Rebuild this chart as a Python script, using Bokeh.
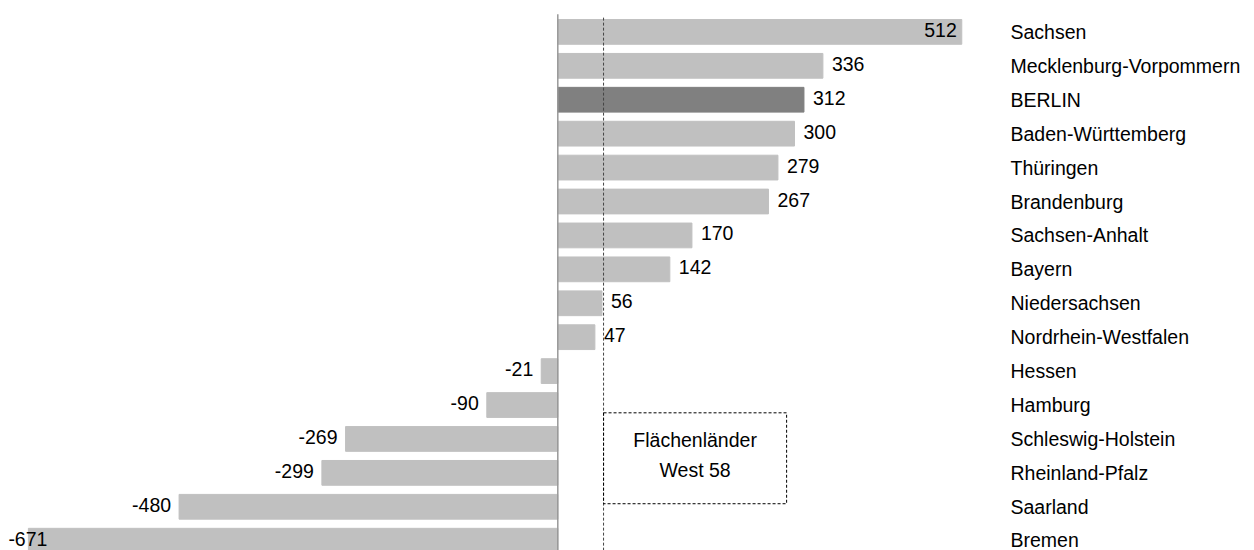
from bokeh.plotting import figure
from bokeh.models import Range1d, FixedTicker, ColumnDataSource, BoxAnnotation
from bokeh.core.properties import value
from bokeh.embed import file_html
from bokeh.resources import INLINE

# Saldo je Land (Einheiten wie im Original)
states = ["Sachsen", "Mecklenburg-Vorpommern", "BERLIN", "Baden-Württemberg",
          "Thüringen", "Brandenburg", "Sachsen-Anhalt", "Bayern",
          "Niedersachsen", "Nordrhein-Westfalen", "Hessen", "Hamburg",
          "Schleswig-Holstein", "Rheinland-Pfalz", "Saarland", "Bremen"]
values = [512, 336, 312, 300, 279, 267, 170, 142, 56, 47,
          -21, -90, -269, -299, -480, -671]
highlight = "BERLIN"
ref_title = "Flächenländer"
ref_sub = "West"
ref_value = 58

FONT = "Liberation Sans"
FS = "19.5px"
BAR = "#c0c0c0"
BAR_HI = "#808080"

# horizontal scale: 0.789 px per unit, zero at x = 557 px in a 1000 px frame
ppu = 0.789
x0_px = 557.3
frame_w = 1000
x_start = -x0_px / ppu
x_end = (frame_w - x0_px) / ppu

rows = list(range(len(states)))
colors = [BAR_HI if s == highlight else BAR for s in states]

# value label placement: outside the bar end, except the largest (inside)
# and the smallest (pushed against the left edge)
vmax, vmin = max(values), min(values)
lab_align, lab_off = [], []
for v in values:
    if v == vmax:
        lab_align.append("right"); lab_off.append(-5)
    elif v == vmin:
        lab_align.append("left"); lab_off.append(-20)
    elif v >= 0:
        lab_align.append("left"); lab_off.append(9)
    else:
        lab_align.append("right"); lab_off.append(-8)

src = ColumnDataSource(dict(y=rows, v=values, color=colors,
                            txt=[str(v) for v in values],
                            align=lab_align, off=lab_off))

p = figure(width=1254, height=550, output_backend="svg", toolbar_location=None,
           x_range=Range1d(x_start, x_end),
           y_range=Range1d((550 - 31.4) / 33.92, -31.4 / 33.92),
           x_axis_location=None, y_axis_location="right",
           min_border_left=0, min_border_top=0, min_border_bottom=0,
           min_border_right=254)
p.outline_line_color = None
p.grid.visible = False
p.background_fill_color = "white"
p.border_fill_color = "white"

p.hbar(y="y", right="v", left=0, height=0.73, color="color", source=src)

# zero line and reference line
p.segment(x0=0, x1=0, y0=-0.52, y1=16, line_color="#999999", line_width=1.5)
p.segment(x0=ref_value, x1=ref_value, y0=-0.42, y1=16,
          line_color="#444444", line_width=1, line_dash="3 2")

p.text(x="v", y="y", text="txt", source=src, text_align="align",
       x_offset="off", y_offset=-2, text_baseline="middle", text_font=value(FONT),
       text_font_size=FS, text_color="#000000")

# reference box with its caption
box_right = 290
p.add_layout(BoxAnnotation(left=ref_value, right=box_right, top=11.23, bottom=13.91,
                           fill_alpha=0, line_color="#000000", line_alpha=1,
                           line_width=1, line_dash="3 2"))
cx = (ref_value + box_right) / 2
p.text(x=[cx, cx], y=[12.02, 12.93], text=[ref_title, f"{ref_sub} {ref_value}"],
       text_align="center", text_baseline="middle", text_font=value(FONT),
       text_font_size=FS, text_color="#000000")

ax = p.yaxis[0]
ax.ticker = FixedTicker(ticks=rows)
ax.major_label_overrides = {i: s for i, s in enumerate(states)}
ax.axis_line_color = None
ax.major_tick_line_color = None
ax.minor_tick_line_color = None
ax.major_tick_in = 0
ax.major_tick_out = 0
ax.major_label_standoff = 10
ax.major_label_text_font = FONT
ax.major_label_text_font_size = FS
ax.major_label_text_color = "#000000"

open("out.html", "w").write(file_html(p, INLINE))
